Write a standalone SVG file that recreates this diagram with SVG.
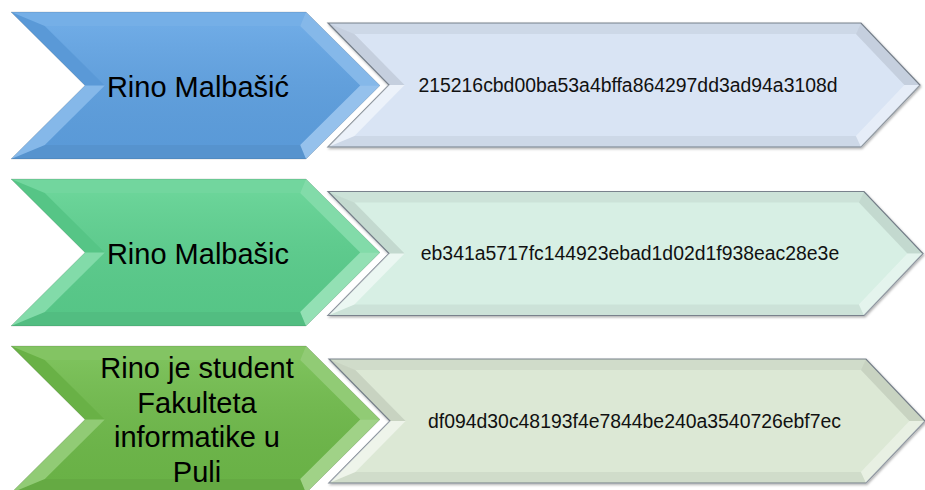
<svg xmlns="http://www.w3.org/2000/svg" width="925" height="490" viewBox="0 0 925 490">
<style>
.lbl{font-family:"Liberation Sans",Arial,sans-serif;font-size:29px;fill:#000;text-anchor:middle}
.hash{font-family:"Liberation Sans",Arial,sans-serif;font-size:19.4px;fill:#111;text-anchor:middle}
.rout{stroke:#7b8590;stroke-width:1.2;stroke-linejoin:miter}
.hi1{fill:#fff;fill-opacity:.14}
.hi2{fill:#fff;fill-opacity:.24}
.hi3{fill:#fff;fill-opacity:.34}
.hi4{fill:#fff;fill-opacity:.5}
.sh1{fill:#000;fill-opacity:.05}
.sh2{fill:#000;fill-opacity:.09}
</style>
<defs>
<linearGradient id="faceL" x1="0" y1="0" x2="0" y2="1">
<stop offset="0" stop-color="#fff" stop-opacity=".1"/>
<stop offset="1" stop-color="#000" stop-opacity=".05"/>
</linearGradient>
<filter id="ds" x="-5%" y="-10%" width="110%" height="125%">
<feDropShadow dx="1" dy="1.5" stdDeviation="1.2" flood-color="#000" flood-opacity=".3"/>
</filter>
<polygon id="lshape" points="11,-73.5 306,-73.5 380,0 306,73.5 11,73.5 85,0"/>
<g id="lbevel">
<polygon class="hi1" points="11,-73.5 306,-73.5 300.2,-59.5 44.8,-59.5"/>
<polygon class="hi2" points="306,-73.5 380,0 360.2,0 300.2,-59.5"/>
<polygon class="hi3" points="380,0 306,73.5 300.2,59.5 360.2,0"/>
<polygon class="sh2" points="306,73.5 11,73.5 44.8,59.5 300.2,59.5"/>
<polygon class="hi2" points="11,73.5 85,0 104.8,0 44.8,59.5"/>
<polygon class="sh1" points="85,0 11,-73.5 44.8,-59.5 104.8,0"/>
<polygon fill="url(#faceL)" points="44.8,-59.5 300.2,-59.5 360.2,0 300.2,59.5 44.8,59.5 104.8,0"/>
<polygon fill="none" stroke="#000" stroke-opacity=".12" stroke-width="1" points="11,-73.5 306,-73.5 380,0 306,73.5 11,73.5 85,0"/>
</g>
</defs>

<g id="connectors"></g>

<g id="row1-right">
<polygon class="rout" filter="url(#ds)" fill="#d9e4f4" points="328,23 861,23 920,85 861,147 328,147 389,85"/>
<polygon class="sh1" points="328,23 861,23 855.9,34 354.4,34"/>
<polygon class="sh2" points="861,23 920,85 904.4,85 855.9,34"/>
<polygon class="hi3" points="920,85 861,147 855.9,136 904.4,85"/>
<polygon class="sh1" points="861,147 328,147 354.4,136 855.9,136"/>
<polygon class="hi4" points="328,147 389,85 404.6,85 354.4,136"/>
<polygon class="sh2" points="389,85 328,23 354.4,34 404.6,85"/>
<text class="hash" x="628" y="92">215216cbd00ba53a4bffa864297dd3ad94a3108d</text>
</g>

<g id="row2-right">
<polygon class="rout" filter="url(#ds)" fill="#d7efe4" points="328,191.5 864,191.5 923,253.5 864,315.5 328,315.5 389,253.5"/>
<polygon class="sh1" points="328,191.5 864,191.5 858.9,202.5 354.4,202.5"/>
<polygon class="sh2" points="864,191.5 923,253.5 907.4,253.5 858.9,202.5"/>
<polygon class="hi3" points="923,253.5 864,315.5 858.9,304.5 907.4,253.5"/>
<polygon class="sh1" points="864,315.5 328,315.5 354.4,304.5 858.9,304.5"/>
<polygon class="hi4" points="328,315.5 389,253.5 404.6,253.5 354.4,304.5"/>
<polygon class="sh2" points="389,253.5 328,191.5 354.4,202.5 404.6,253.5"/>
<text class="hash" x="630" y="260">eb341a5717fc144923ebad1d02d1f938eac28e3e</text>
</g>

<g id="row3-right">
<polygon class="rout" filter="url(#ds)" fill="#dce8d5" points="329,359 866,359 925,421 866,483 329,483 390,421"/>
<polygon class="sh1" points="329,359 866,359 860.9,370 355.4,370"/>
<polygon class="sh2" points="866,359 925,421 909.4,421 860.9,370"/>
<polygon class="hi3" points="925,421 866,483 860.9,472 909.4,421"/>
<polygon class="sh1" points="866,483 329,483 355.4,472 860.9,472"/>
<polygon class="hi4" points="329,483 390,421 405.6,421 355.4,472"/>
<polygon class="sh2" points="390,421 329,359 355.4,370 405.6,421"/>
<text class="hash" x="634.5" y="428">df094d30c48193f4e7844be240a3540726ebf7ec</text>
</g>

<g id="row1-left">
<use href="#lshape" transform="translate(0,85.5)" fill="#5fa2e3"/>
<use href="#lbevel" transform="translate(0,85.5)"/>
<text class="lbl" x="198" y="97">Rino Malbašić</text>
</g>

<g id="row2-left">
<use href="#lshape" transform="translate(0,252.5)" fill="#5bd08e"/>
<use href="#lbevel" transform="translate(0,252.5)"/>
<text class="lbl" x="198" y="264">Rino Malbašic</text>
</g>

<g id="row3-left">
<use href="#lshape" transform="translate(0,419.5)" fill="#6fbb4a"/>
<use href="#lbevel" transform="translate(0,419.5)"/>
<text class="lbl" x="197" y="378">Rino je student</text>
<text class="lbl" x="197" y="412.7">Fakulteta</text>
<text class="lbl" x="197" y="447.4">informatike u</text>
<text class="lbl" x="197" y="482">Puli</text>
</g>
</svg>
